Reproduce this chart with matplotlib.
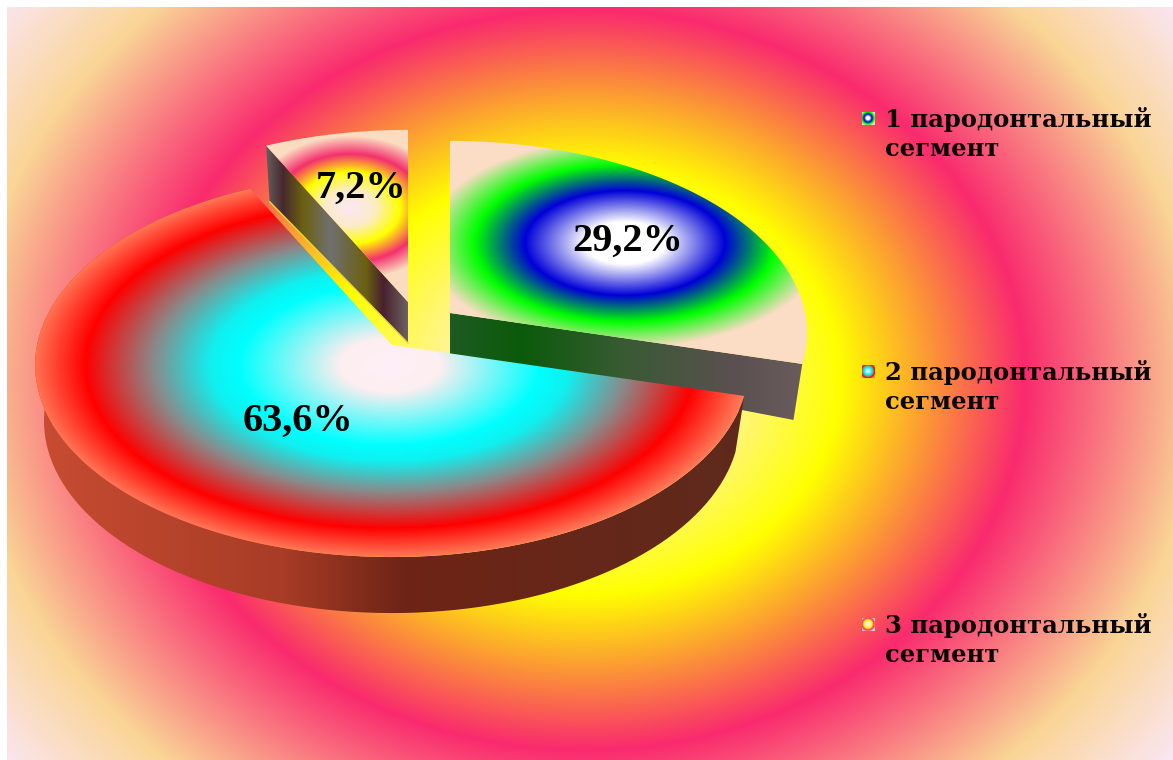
import numpy as np
import matplotlib
matplotlib.use('Agg')
import matplotlib.pyplot as plt
from matplotlib.colors import to_rgb
from matplotlib.patches import Polygon

# данные диаграммы
legend_labels = ['1 пародонтальный\nсегмент', '2 пародонтальный\nсегмент', '3 пародонтальный\nсегмент']
values = [29.2, 63.6, 7.2]

# цветовые растяжки (позиция, цвет)
fon_stops = [(0, '#fff0f5'), (0.2, '#fff0d8'), (0.58, '#ffff00'), (1.0, '#f92a6e'), (1.4, '#fad596'), (1.68, '#fbe6f4')]
seg1_stops = [(0, '#ffffff'), (0.2, '#ffffff'), (0.5, '#0000d8'), (0.62, '#007a70'), (0.75, '#00ff00'), (1.0, '#fbdcc4')]
seg2_stops = [(0, '#fff0f8'), (0.14, '#fdeef0'), (0.42, '#00ffff'), (0.5, '#10f0f0'), (0.66, '#8a8a8a'), (0.85, '#ff0000'), (1.0, '#ff7a58')]
seg3_stops = [(0, '#fbe8f4'), (0.25, '#fcecc8'), (0.5, '#ffff00'), (0.75, '#f4306e'), (1.0, '#fbdcc0')]

stenka1 = [(0, '#1f5a24'), (0.2, '#0a5a0a'), (0.5, '#3a5a35'), (0.8, '#5a5050'), (1.0, '#6a5c5c')]
stenka2 = [(0, '#c84c32'), (0.35, '#a83c26'), (0.52, '#6e2416'), (1.0, '#5e2a1c')]
stenka3 = [(0, '#666060'), (0.12, '#48282e'), (0.26, '#6b6010'), (0.45, '#707070'), (0.7, '#6b6010'), (0.82, '#48202e'), (1.0, '#706464')]

W, H = 1173, 760
fig = plt.figure(figsize=(W / 100, H / 100), dpi=100, facecolor='white')
ax = fig.add_axes([0, 0, 1, 1])
ax.set_xlim(0, W)
ax.set_ylim(H, 0)
ax.axis('off')


def make_colors(t, stops):
    pos = [s[0] for s in stops]
    rgb = np.array([to_rgb(s[1]) for s in stops])
    return np.dstack([np.interp(t, pos, rgb[:, i]) for i in range(3)])


def radial_fill(stops, cx, cy, rx, ry, box, clip=None, z=1):
    x0, x1, y0, y1 = box
    xx, yy = np.meshgrid(np.arange(x0, x1) + 0.5, np.arange(y0, y1) + 0.5)
    t = np.sqrt(((xx - cx) / rx) ** 2 + ((yy - cy) / ry) ** 2)
    im = ax.imshow(make_colors(t, stops), extent=(x0, x1, y1, y0), zorder=z, aspect='auto')
    if clip is not None:
        im.set_clip_path(Polygon(clip, transform=ax.transData))
    return im


def wall_fill(stops, pts, z):
    pts = np.array(pts)
    x0, x1 = int(pts[:, 0].min()), int(pts[:, 0].max()) + 1
    y0, y1 = int(pts[:, 1].min()), int(pts[:, 1].max()) + 1
    xx = np.arange(x0, x1) + 0.5
    t = (xx - x0) / (x1 - x0)
    img = make_colors(np.tile(t, (y1 - y0, 1)), stops)
    im = ax.imshow(img, extent=(x0, x1, y1, y0), zorder=z, aspect='auto')
    im.set_clip_path(Polygon(pts, transform=ax.transData))


# перспективная проекция круга: угол от 12 часов по часовой стрелке
def top_point(tip, ang, r=1.0):
    a = np.radians(ang)
    v = -r * np.cos(a)
    s = 1 / (1 - 0.104 * v)
    return np.array([tip[0] + 355 * r * np.sin(a) * s, tip[1] + 190 * v * s])


def low_point(tip, ang, r=1.0):
    p = top_point(tip, ang, r)
    return np.array([tip[0] + 0.975 * (p[0] - tip[0]), p[1] + 41 + 15 * r])


def arc(fn, tip, a0, a1):
    return [fn(tip, a) for a in np.linspace(a0, a1, 120)]


edges = np.cumsum([0] + values) / sum(values) * 360
tip1 = (450, 313)
tip2 = (392, 345)
tip3 = (408, 302)

# фон
radial_fill(fon_stops, 585, 380, 440, 370, (7, W, 7, H), z=0)

# сегмент 1
face1 = [np.array(tip1)] + arc(top_point, tip1, edges[0], edges[1])
wall1 = [tip1, top_point(tip1, edges[1]), low_point(tip1, edges[1]), low_point(tip1, 0, 0)]
wall_fill(stenka1, wall1, 2)
radial_fill(seg1_stops, 625, 243, 200, 105, (450, 810, 130, 370), face1, z=3)

# сегмент 2
rim2 = arc(top_point, tip2, edges[1], edges[2]) + arc(low_point, tip2, edges[2], edges[1])
wall_fill(stenka2, rim2, 4)
face2 = [np.array(tip2)] + arc(top_point, tip2, edges[1], edges[2])
radial_fill(seg2_stops, 390, 365, 358, 192, (25, 750, 170, 565), face2, z=5)

# сегмент 3
wall3 = [tip3, top_point(tip3, edges[2]), low_point(tip3, edges[2]), low_point(tip3, 0, 0)]
wall_fill(stenka3, wall3, 6)
face3 = [np.array(tip3)] + arc(top_point, tip3, edges[2], edges[3])
radial_fill(seg3_stops, 350, 208, 100, 72, (260, 412, 125, 310), face3, z=7)
line3 = np.array([low_point(tip3, edges[2]), low_point(tip3, 0, 0)])
ax.plot(line3[:, 0], line3[:, 1], color='#e8d830', lw=1, zorder=6)

ax.set_xlim(0, W)
ax.set_ylim(H, 0)

# подписи значений
label_pos = [(628, 241), (298, 421), (361, 188)]
for v, (lx, ly) in zip(values, label_pos):
    ax.text(lx, ly, f'{v:.1f}%'.replace('.', ','), ha='center', va='center', fontsize=29,
            fontweight='bold', family='Liberation Serif', color='black', zorder=10)

# легенда
legend_y = [118, 371, 624]
legend_stops = [seg1_stops, seg2_stops, seg3_stops]
for lab, ly, st in zip(legend_labels, legend_y, legend_stops):
    radial_fill(st, 868, ly, 8, 8, (862, 875, ly - 6, ly + 7), z=8)
    ax.text(885, ly - 11, lab, ha='left', va='top', fontsize=17.5, fontweight='bold',
            family='DejaVu Serif', color='#0a0505', linespacing=1.25, zorder=10)

ax.set_xlim(0, W)
ax.set_ylim(H, 0)
plt.savefig('out.png', dpi=100)
